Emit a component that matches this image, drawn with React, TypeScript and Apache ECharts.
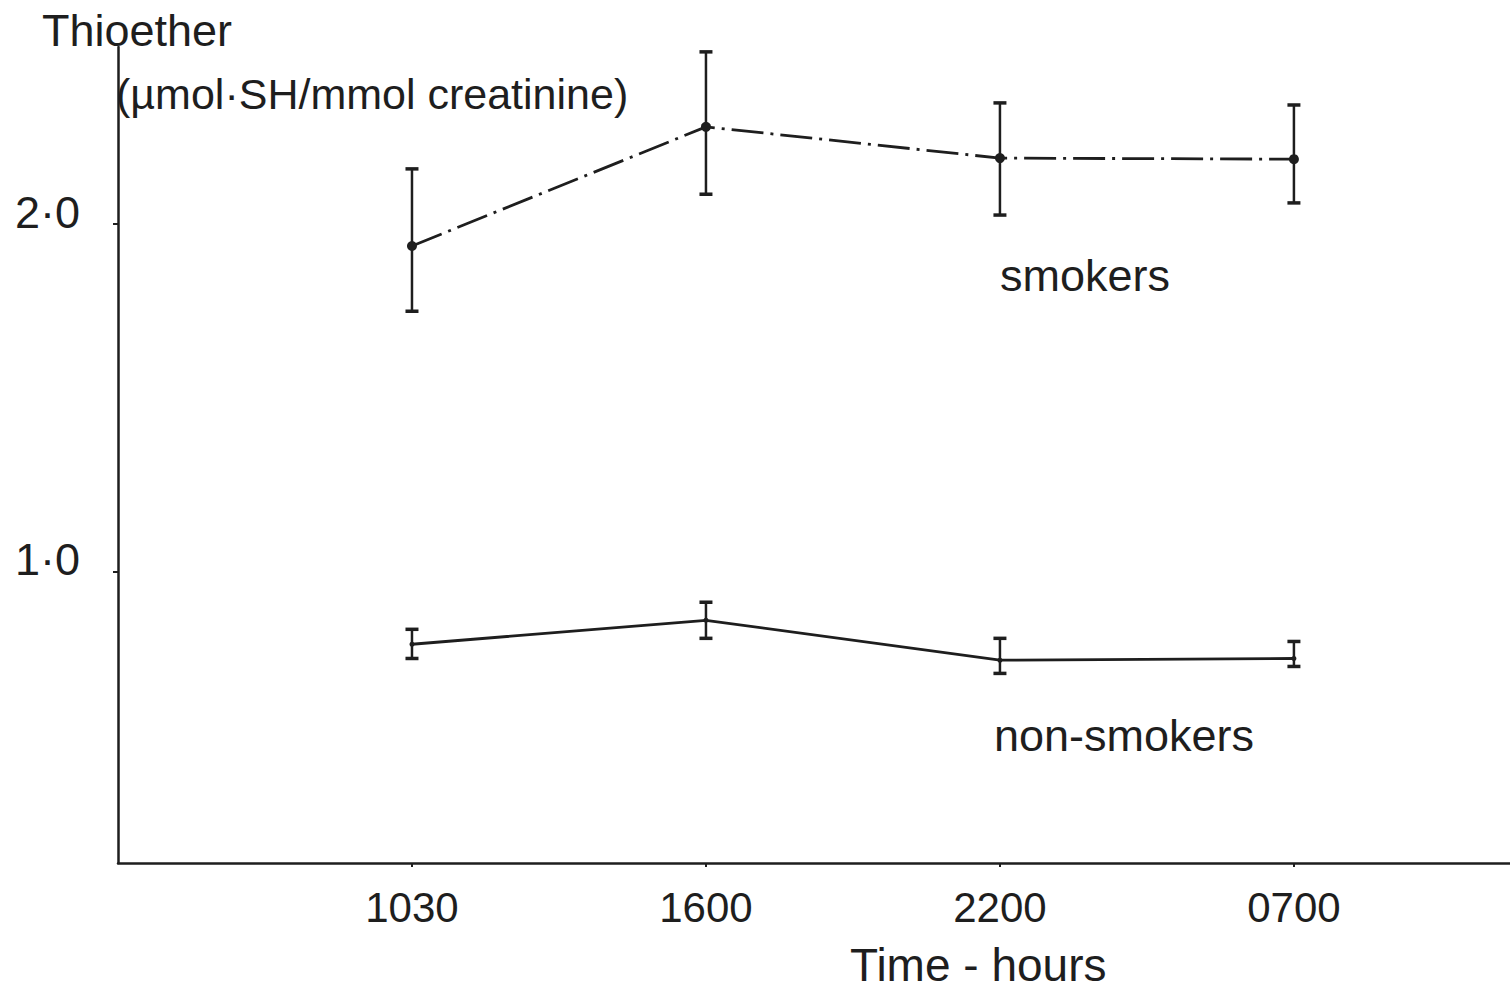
import React, { useEffect, useRef } from 'react';
import * as echarts from 'echarts';

const timeLabels = ['1030', '1600', '2200', '0700'];
const timePositions = [1, 2, 3, 4];
const smokersMean = [1.937, 2.28, 2.19, 2.187];
const smokersUpper = [2.159, 2.496, 2.349, 2.343];
const smokersLower = [1.749, 2.086, 2.026, 2.061];
const nonSmokersMean = [0.79, 0.859, 0.744, 0.749];
const nonSmokersUpper = [0.833, 0.911, 0.807, 0.798];
const nonSmokersLower = [0.749, 0.807, 0.706, 0.726];
const yTickValues = [1, 2];
const yTickLabels = ['1·0', '2·0'];

const INK = '#1e1e1e';
const FONT = '"Liberation Sans", Arial, Helvetica, sans-serif';

function errorBarSeries(name: string, lower: number[], upper: number[], cap: number) {
  return {
    name,
    type: 'custom',
    silent: true,
    z: 3,
    data: timePositions.map((x, i) => [x, lower[i], upper[i]]),
    encode: { x: 0, y: [1, 2] },
    renderItem: (_params: any, api: any) => {
      const x = api.value(0);
      const pLo = api.coord([x, api.value(1)]);
      const pHi = api.coord([x, api.value(2)]);
      const hw = cap / 2;
      const st = { stroke: INK, lineWidth: 2.5 };
      return {
        type: 'group',
        children: [
          { type: 'line', shape: { x1: pHi[0], y1: pHi[1], x2: pLo[0], y2: pLo[1] }, style: st },
          { type: 'line', shape: { x1: pHi[0] - hw, y1: pHi[1], x2: pHi[0] + hw, y2: pHi[1] }, style: { stroke: INK, lineWidth: 3.5 } },
          { type: 'line', shape: { x1: pLo[0] - hw, y1: pLo[1], x2: pLo[0] + hw, y2: pLo[1] }, style: { stroke: INK, lineWidth: 3.5 } },
        ],
      };
    },
  };
}

export default function App() {
  const ref = useRef<HTMLDivElement>(null);
  useEffect(() => {
    if (!ref.current) return;
    const chart = echarts.init(ref.current, undefined, { renderer: 'svg' });
    const option: any = {
      animation: false,
      backgroundColor: '#ffffff',
      grid: { left: 118, right: 0, top: 47, bottom: 129 },
      xAxis: {
        type: 'value',
        min: 0,
        max: 4.735,
        axisLine: { show: true, onZero: false, lineStyle: { color: INK, width: 2.5 } },
        axisTick: { show: true, customValues: timePositions, length: 4, lineStyle: { color: INK, width: 2 } },
        axisLabel: {
          show: true,
          customValues: timePositions,
          formatter: (v: number) => timeLabels[timePositions.indexOf(Math.round(v))] ?? '',
          fontSize: 42,
          fontFamily: FONT,
          color: INK,
          margin: 23,
        },
        splitLine: { show: false },
      },
      yAxis: {
        type: 'value',
        min: 0.16,
        max: 2.51,
        axisLine: { show: true, onZero: false, lineStyle: { color: INK, width: 2.5 } },
        axisTick: { show: true, customValues: yTickValues, length: 5, lineStyle: { color: INK, width: 2 } },
        axisLabel: {
          show: true,
          customValues: yTickValues,
          formatter: (v: number) => yTickLabels[yTickValues.indexOf(Math.round(v))] ?? '',
          fontSize: 45,
          fontFamily: FONT,
          color: INK,
          margin: 38,
          verticalAlign: 'bottom',
          lineHeight: 24,
        },
        splitLine: { show: false },
      },
      series: [
        {
          name: 'smokers',
          type: 'line',
          z: 4,
          data: timePositions.map((x, i) => [x, smokersMean[i]]),
          symbol: 'circle',
          symbolSize: 10,
          itemStyle: { color: INK },
          lineStyle: { color: INK, width: 2.8, type: [32, 7, 3, 7] },
        },
        errorBarSeries('smokers error', smokersLower, smokersUpper, 13),
        {
          name: 'non-smokers',
          type: 'line',
          z: 4,
          data: timePositions.map((x, i) => [x, nonSmokersMean[i]]),
          symbol: 'circle',
          symbolSize: 5,
          itemStyle: { color: INK },
          lineStyle: { color: INK, width: 2.8, type: 'solid' },
        },
        errorBarSeries('non-smokers error', nonSmokersLower, nonSmokersUpper, 13),
      ],
      graphic: [
        { type: 'text', left: 42, top: 8, style: { text: 'Thioether', fontSize: 45, fontFamily: FONT, fill: INK } },
        { type: 'text', left: 116, top: 72, style: { text: '(µmol·SH/mmol creatinine)', fontSize: 43, fontFamily: FONT, fill: INK } },
        { type: 'text', x: 1000, y: 275, style: { text: 'smokers', fontSize: 45, fontFamily: FONT, fill: INK, verticalAlign: 'middle' } },
        { type: 'text', x: 994, y: 735, style: { text: 'non-smokers', fontSize: 45, fontFamily: FONT, fill: INK, verticalAlign: 'middle' } },
        { type: 'text', x: 850, y: 965, style: { text: 'Time - hours', fontSize: 46, fontFamily: FONT, fill: INK, verticalAlign: 'middle' } },
      ],
    };
    chart.setOption(option);
    return () => chart.dispose();
  }, []);
  return (
    <div
      ref={ref}
      style={{ position: 'absolute', left: 0, top: 0, width: 1510, height: 992, background: '#fff' }}
    />
  );
}
